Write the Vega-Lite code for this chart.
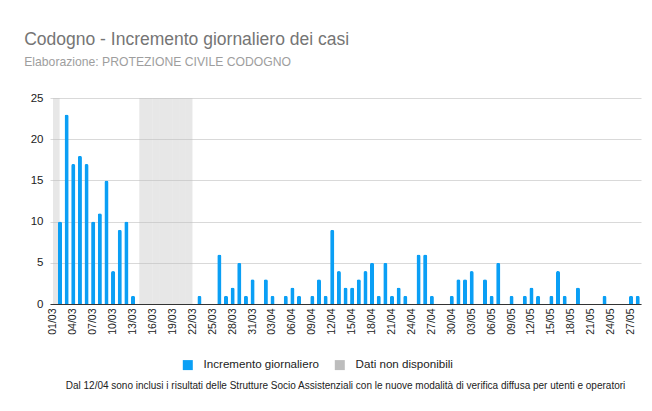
{
  "$schema": "https://vega.github.io/schema/vega-lite/v6.json",
  "background": "white",
  "padding": {"left": 24, "top": 31, "right": 12, "bottom": 5},
  "title": {
    "text": "Codogno - Incremento giornaliero dei casi",
    "subtitle": "Elaborazione:  PROTEZIONE CIVILE CODOGNO",
    "anchor": "start",
    "frame": "bounds",
    "dx": -6,
    "font": "Liberation Sans",
    "fontSize": 17.5,
    "fontWeight": "normal",
    "color": "#757575",
    "subtitleFont": "Liberation Sans",
    "subtitleFontSize": 12.2,
    "subtitleColor": "#9e9e9e",
    "subtitlePadding": 7,
    "offset": 24
  },
  "config": {
    "view": {"stroke": null},
    "font": "Liberation Sans",
    "concat": {"spacing": 0}
  },
  "vconcat": [
    {
      "width": 591,
      "height": 206,
      "title": {
        "text": "Dal 12/04 sono inclusi i risultati delle Strutture Socio Assistenziali con le nuove modalità di verifica diffusa per utenti e operatori",
        "orient": "bottom",
        "anchor": "middle",
        "frame": "group",
        "dx": 0,
        "fontSize": 10,
        "fontWeight": "normal",
        "color": "#222222",
        "offset": 47
      },
      "data": {
        "values": [
          {"g": "01/03", "v": null, "n": 25},
          {"g": "02/03", "v": 10, "n": null},
          {"g": "03/03", "v": 23, "n": null},
          {"g": "04/03", "v": 17, "n": null},
          {"g": "05/03", "v": 18, "n": null},
          {"g": "06/03", "v": 17, "n": null},
          {"g": "07/03", "v": 10, "n": null},
          {"g": "08/03", "v": 11, "n": null},
          {"g": "09/03", "v": 15, "n": null},
          {"g": "10/03", "v": 4, "n": null},
          {"g": "11/03", "v": 9, "n": null},
          {"g": "12/03", "v": 10, "n": null},
          {"g": "13/03", "v": 1, "n": null},
          {"g": "14/03", "v": null, "n": 25},
          {"g": "15/03", "v": null, "n": 25},
          {"g": "16/03", "v": null, "n": 25},
          {"g": "17/03", "v": null, "n": 25},
          {"g": "18/03", "v": null, "n": 25},
          {"g": "19/03", "v": null, "n": 25},
          {"g": "20/03", "v": null, "n": 25},
          {"g": "21/03", "v": null, "n": 25},
          {"g": "22/03", "v": 0, "n": null},
          {"g": "23/03", "v": 1, "n": null},
          {"g": "24/03", "v": 0, "n": null},
          {"g": "25/03", "v": 0, "n": null},
          {"g": "26/03", "v": 6, "n": null},
          {"g": "27/03", "v": 1, "n": null},
          {"g": "28/03", "v": 2, "n": null},
          {"g": "29/03", "v": 5, "n": null},
          {"g": "30/03", "v": 1, "n": null},
          {"g": "31/03", "v": 3, "n": null},
          {"g": "01/04", "v": 0, "n": null},
          {"g": "02/04", "v": 3, "n": null},
          {"g": "03/04", "v": 1, "n": null},
          {"g": "04/04", "v": 0, "n": null},
          {"g": "05/04", "v": 1, "n": null},
          {"g": "06/04", "v": 2, "n": null},
          {"g": "07/04", "v": 1, "n": null},
          {"g": "08/04", "v": 0, "n": null},
          {"g": "09/04", "v": 1, "n": null},
          {"g": "10/04", "v": 3, "n": null},
          {"g": "11/04", "v": 1, "n": null},
          {"g": "12/04", "v": 9, "n": null},
          {"g": "13/04", "v": 4, "n": null},
          {"g": "14/04", "v": 2, "n": null},
          {"g": "15/04", "v": 2, "n": null},
          {"g": "16/04", "v": 3, "n": null},
          {"g": "17/04", "v": 4, "n": null},
          {"g": "18/04", "v": 5, "n": null},
          {"g": "19/04", "v": 1, "n": null},
          {"g": "20/04", "v": 5, "n": null},
          {"g": "21/04", "v": 1, "n": null},
          {"g": "22/04", "v": 2, "n": null},
          {"g": "23/04", "v": 1, "n": null},
          {"g": "24/04", "v": 0, "n": null},
          {"g": "25/04", "v": 6, "n": null},
          {"g": "26/04", "v": 6, "n": null},
          {"g": "27/04", "v": 1, "n": null},
          {"g": "28/04", "v": 0, "n": null},
          {"g": "29/04", "v": 0, "n": null},
          {"g": "30/04", "v": 1, "n": null},
          {"g": "01/05", "v": 3, "n": null},
          {"g": "02/05", "v": 3, "n": null},
          {"g": "03/05", "v": 4, "n": null},
          {"g": "04/05", "v": 0, "n": null},
          {"g": "05/05", "v": 3, "n": null},
          {"g": "06/05", "v": 1, "n": null},
          {"g": "07/05", "v": 5, "n": null},
          {"g": "08/05", "v": 0, "n": null},
          {"g": "09/05", "v": 1, "n": null},
          {"g": "10/05", "v": 0, "n": null},
          {"g": "11/05", "v": 1, "n": null},
          {"g": "12/05", "v": 2, "n": null},
          {"g": "13/05", "v": 1, "n": null},
          {"g": "14/05", "v": 0, "n": null},
          {"g": "15/05", "v": 1, "n": null},
          {"g": "16/05", "v": 4, "n": null},
          {"g": "17/05", "v": 1, "n": null},
          {"g": "18/05", "v": 0, "n": null},
          {"g": "19/05", "v": 2, "n": null},
          {"g": "20/05", "v": 0, "n": null},
          {"g": "21/05", "v": 0, "n": null},
          {"g": "22/05", "v": 0, "n": null},
          {"g": "23/05", "v": 1, "n": null},
          {"g": "24/05", "v": 0, "n": null},
          {"g": "25/05", "v": 0, "n": null},
          {"g": "26/05", "v": 0, "n": null},
          {"g": "27/05", "v": 1, "n": null},
          {"g": "28/05", "v": 1, "n": null}
        ]
      },
      "encoding": {
        "x": {
          "field": "g",
          "type": "ordinal",
          "sort": null,
          "scale": {
            "paddingInner": 0,
            "paddingOuter": 0,
            "domain": ["01/03","02/03","03/03","04/03","05/03","06/03","07/03","08/03","09/03","10/03","11/03","12/03","13/03","14/03","15/03","16/03","17/03","18/03","19/03","20/03","21/03","22/03","23/03","24/03","25/03","26/03","27/03","28/03","29/03","30/03","31/03","01/04","02/04","03/04","04/04","05/04","06/04","07/04","08/04","09/04","10/04","11/04","12/04","13/04","14/04","15/04","16/04","17/04","18/04","19/04","20/04","21/04","22/04","23/04","24/04","25/04","26/04","27/04","28/04","29/04","30/04","01/05","02/05","03/05","04/05","05/05","06/05","07/05","08/05","09/05","10/05","11/05","12/05","13/05","14/05","15/05","16/05","17/05","18/05","19/05","20/05","21/05","22/05","23/05","24/05","25/05","26/05","27/05","28/05"]
          },
          "axis": {
            "title": null,
            "labelAngle": -90,
            "values": ["01/03","04/03","07/03","10/03","13/03","16/03","19/03","22/03","25/03","28/03","31/03","03/04","06/04","09/04","12/04","15/04","18/04","21/04","24/04","27/04","30/04","03/05","06/05","09/05","12/05","15/05","18/05","21/05","24/05","27/05"],
            "ticks": false,
            "domainColor": "#333333",
            "labelFontSize": 10.5,
            "labelColor": "#222222",
            "labelPadding": 4
          }
        }
      },
      "layer": [
        {
          "mark": {"type": "bar", "fillOpacity": 0.36, "xOffset": 3},
          "encoding": {
            "y": {
              "field": "n",
              "type": "quantitative",
              "scale": {"domain": [0, 25], "nice": false},
              "axis": {
                "title": null,
                "values": [0, 5, 10, 15, 20, 25],
                "domain": false,
                "ticks": false,
                "labelPadding": 7,
                "gridColor": "#d9d9d9",
                "labelFontSize": 11.5,
                "labelColor": "#222222"
              }
            },
            "color": {
              "datum": "Dati non disponibili",
              "type": "nominal",
              "scale": {
                "domain": ["Incremento giornaliero", "Dati non disponibili"],
                "range": ["#0a9ff5", "#bdbdbd"]
              },
              "legend": {
                "orient": "none",
                "legendX": 132,
                "legendY": 261,
                "direction": "horizontal",
                "title": null,
                "symbolType": "square",
                "symbolSize": 100,
                "symbolOpacity": 1,
                "symbolStrokeWidth": 0,
                "labelFontSize": 11.6,
                "labelColor": "#222222",
                "labelOffset": 10,
                "columnPadding": 15
              }
            }
          }
        },
        {
          "mark": {"type": "bar", "width": {"band": 0.62}, "cornerRadiusEnd": 2},
          "encoding": {
            "y": {"field": "v", "type": "quantitative"},
            "color": {"datum": "Incremento giornaliero", "type": "nominal"}
          }
        }
      ]
    }
  ]
}
